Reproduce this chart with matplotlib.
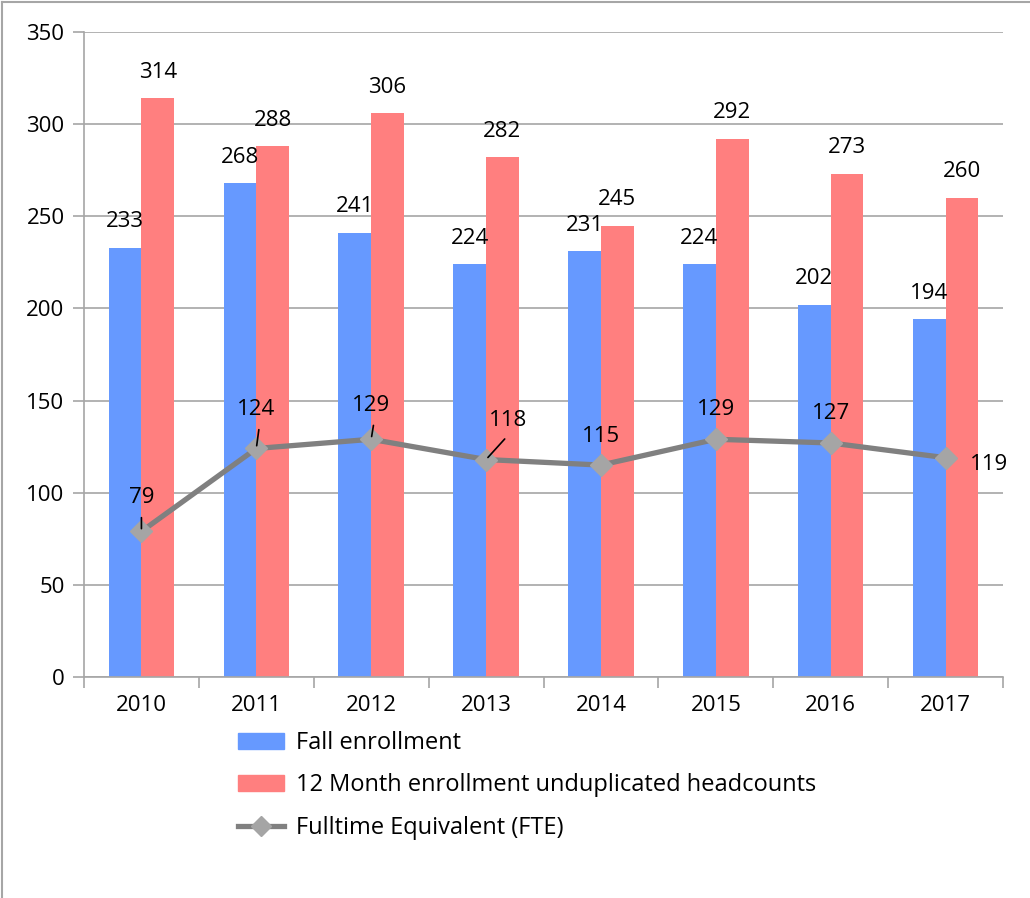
import matplotlib
matplotlib.use("Agg")
import matplotlib.pyplot as plt
import numpy as np
from matplotlib.lines import Line2D
from matplotlib.patches import Patch

years = ["2010", "2011", "2012", "2013", "2014", "2015", "2016", "2017"]
fall = [233, 268, 241, 224, 231, 224, 202, 194]
month12 = [314, 288, 306, 282, 245, 292, 273, 260]
fte = [79, 124, 129, 118, 115, 129, 127, 119]
yticks = [0, 50, 100, 150, 200, 250, 300, 350]

plt.rcParams['font.family'] = ['Open Sans', 'DejaVu Sans']

BLUE = "#6699FF"
RED = "#FF7F7F"
LINE = "#808080"
MARK = "#A5A5A5"
GRID = "#A6A6A6"

fig = plt.figure(figsize=(10.3, 8.98), dpi=100)
ax = fig.add_axes([84/1030, 1-677/898, (1003-84)/1030, (677-32)/898])

x = np.arange(len(years))
w = 0.285
ax.bar(x - w/2, fall, w, color=BLUE, zorder=2)
ax.bar(x + w/2, month12, w, color=RED, zorder=2)
ax.plot(x, fte, color=LINE, lw=3.8, marker='D', markersize=11,
        markerfacecolor=MARK, markeredgecolor=MARK, zorder=4)

ax.set_xlim(-0.5, len(years)-0.5)
ax.set_ylim(0, 350)
ax.set_yticks(yticks)
ax.yaxis.grid(True, color=GRID, lw=1.2, zorder=0)
ax.set_axisbelow(True)
for s in ['top', 'right']:
    ax.spines[s].set_visible(False)
for s in ['left', 'bottom']:
    ax.spines[s].set_color(GRID)
    ax.spines[s].set_linewidth(1.2)
ax.tick_params(axis='y', length=8, color=GRID, width=1.2, labelsize=16, pad=6)
ax.set_xticks(x)
ax.set_xticklabels(years)
ax.tick_params(axis='x', which='major', length=0, labelsize=16, pad=13)
ax.set_xticks(np.arange(-0.5, len(years), 1.0), minor=True)
ax.tick_params(axis='x', which='minor', length=8, color=GRID, width=1.2)

fs = 16
for i in range(len(years)):
    ax.annotate(str(fall[i]), (x[i]-w/2, fall[i]), xytext=(0, 26),
                textcoords='offset pixels', ha='center', va='center', fontsize=fs, zorder=5)
    ax.annotate(str(month12[i]), (x[i]+w/2, month12[i]), xytext=(0, 26),
                textcoords='offset pixels', ha='center', va='center', fontsize=fs, zorder=5)

# FTE labels: offsets in pixels, leader flag, leader start (relpos)
fte_off = [(0, 34, True, (0.5, 0)), (0, 39, True, (0.6, 0)), (0, 34, True, (0.6, 0)),
           (22, 39, True, (0.6, 0)), (0, 29, False, None), (0, 30, False, None),
           (0, 29, False, None), (44, -7, False, None)]
for i, (dx, dy, lead, rp) in enumerate(fte_off):
    kw = {}
    if lead:
        kw['arrowprops'] = dict(arrowstyle='-', color='black', lw=1.2,
                                shrinkA=5, shrinkB=2, relpos=rp)
    ax.annotate(str(fte[i]), (x[i], fte[i]), xytext=(dx, dy),
                textcoords='offset pixels', ha='center', va='center',
                fontsize=fs, zorder=6, **kw)

handles = [Patch(color=BLUE), Patch(color=RED),
           Line2D([0], [0], color=LINE, lw=3.8, marker='D', markersize=10,
                  markerfacecolor=MARK, markeredgecolor=MARK)]
labels = ["Fall enrollment", "12 Month enrollment unduplicated headcounts",
          "Fulltime Equivalent (FTE)"]
fig.legend(handles, labels, loc='upper left', bbox_to_anchor=(238/1030, 1-731/898),
           frameon=False, fontsize=17, handlelength=1.95, handleheight=0.65,
           handletextpad=0.5, labelspacing=0.78, borderaxespad=0, borderpad=0)

fig.add_artist(Line2D([2/1030, 2/1030], [0, 1-2/898], transform=fig.transFigure,
                      color="#A6A6A6", lw=1.5))
fig.add_artist(Line2D([2/1030, 1], [1-2/898, 1-2/898], transform=fig.transFigure,
                      color="#A6A6A6", lw=1.5))

fig.savefig("out.png", dpi=100)
